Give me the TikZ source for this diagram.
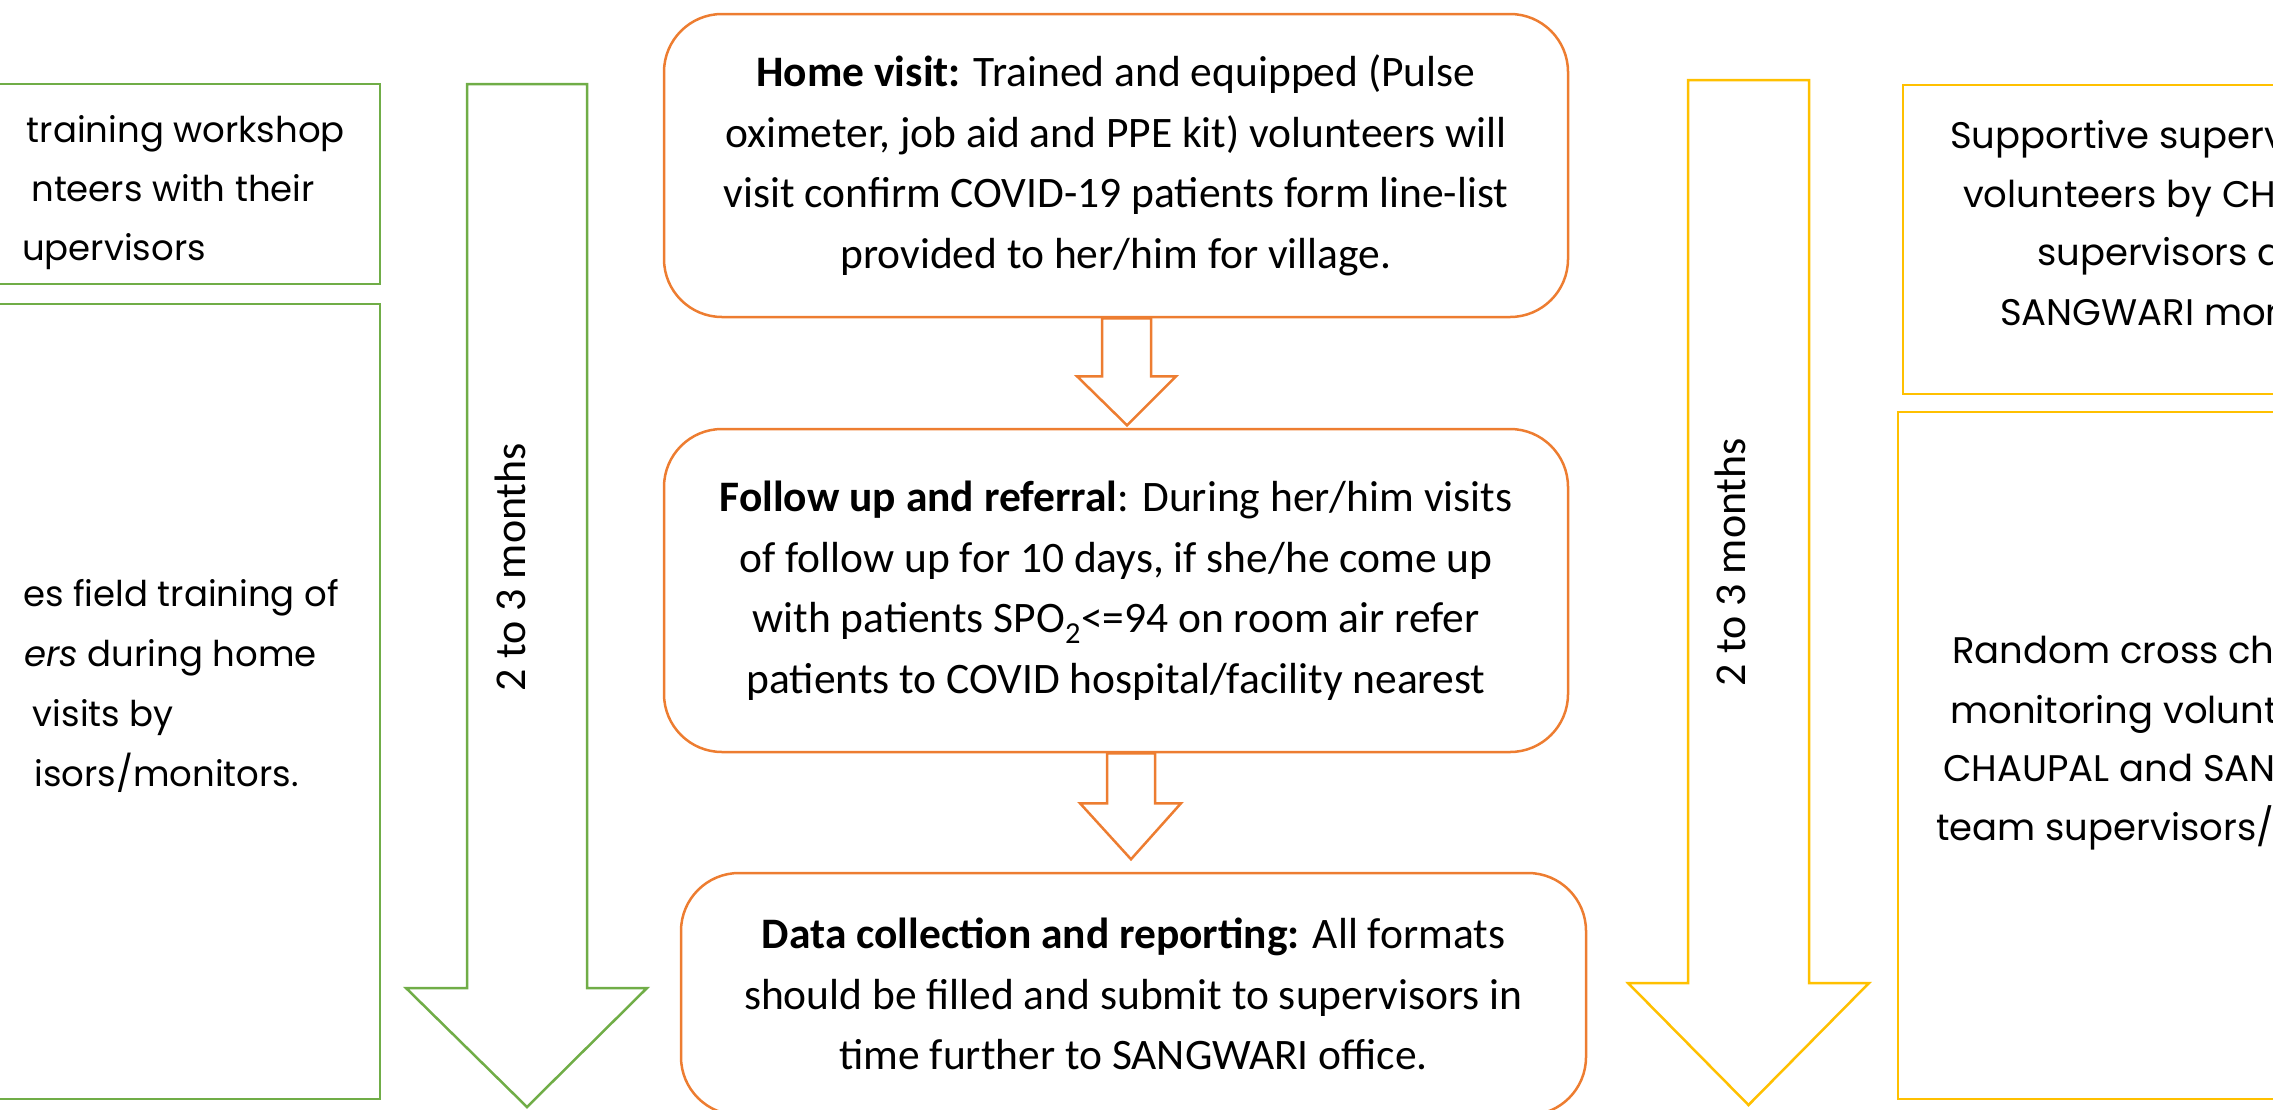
\documentclass[tikz,border=0pt]{standalone}
\usepackage{fontspec}
\setmainfont{Carlito}
\newfontfamily\gothic{Poppins}
\usetikzlibrary{calc}
\definecolor{orangeC}{HTML}{ED7D31}
\definecolor{greenC}{HTML}{70AD47}
\definecolor{yellowC}{HTML}{FFC000}
\tikzset{
  cbox/.style={draw=orangeC, line width=2.5pt, rounded corners=58pt, minimum width=904pt,
    align=center, inner sep=0pt, font=\fontsize{43.5}{60.5}\selectfont},
  gbox/.style={draw=greenC, line width=2.5pt, inner sep=0pt},
  ybox/.style={draw=yellowC, line width=2.5pt, inner sep=0pt},
  sidetxtL/.style={font=\gothic\fontsize{35.5}{60}\selectfont, anchor=base east, inner sep=0pt},
  sidetxtR/.style={font=\gothic\fontsize{37}{60}\selectfont, anchor=base west, inner sep=0pt},
  months/.style={font=\fontsize{44}{50}\selectfont, rotate=90, anchor=base, inner sep=0pt},
  blockarrow/.style={line width=2.5pt, line join=miter, fill=white}
}
\begin{document}
\begin{tikzpicture}[x=1pt,y=-1pt]
\useasboundingbox (0,0) rectangle (2273,1109);
\clip (0,0) rectangle (2273,1109);

% left green boxes
\node[gbox, minimum width=480pt, minimum height=200pt] (lt) at (140,184) {};
\node[gbox, minimum width=480pt, minimum height=795pt] (lb) at (140,701.5) {};
\node[sidetxtL] (lt1) at (345,142) {training workshop};
\node[sidetxtL] (lt2) at (315,201) {nteers with their};
\node[sidetxtL] (lt3) at (206,260) {upervisors};
\node[sidetxtL] (lb1) at (339,606) {es field training of};
\node[sidetxtL] (lb2) at (317,666) {{\itshape ers} during home};
\node[sidetxtL] (lb3) at (174,726) {visits by};
\node[sidetxtL] (lb4) at (299,786) {isors/monitors.};

% green block arrow
\draw[blockarrow, draw=greenC] (467,84) -- (587,84) -- (587,988) -- (647,988)
  -- (527,1107) -- (406,988) -- (467,988) -- cycle;
\node[months] (gm) at (525,567) {2 to 3 months};

% centre boxes
\node[cbox, minimum height=303pt] (b1) at (1116,165.5)
  {\textbf{Home visit:} Trained and equipped (Pulse\\
   oximeter, job aid and PPE kit) volunteers will\\
   visit confirm COVID-19 patients form line-list\\
   provided to her/him for village.};
\node[cbox, minimum height=323pt] (b2) at (1116,590.5)
  {\textbf{Follow up and referral}: During her/him visits\\
   of follow up for 10 days, if she/he come up\\
   with patients SPO\textsubscript{2}<=94 on room air refer\\
   patients to COVID hospital/facility nearest};
\node[cbox, minimum width=905pt, minimum height=242pt] (b3) at (1133.5,994)
  {\textbf{Data collection and reporting:} All formats\\
   should be filled and submit to supervisors in\\
   time further to SANGWARI office.};

% small block arrows between centre boxes
\draw[blockarrow, draw=orangeC] ($(b1.south)+(-14,0)$) -- ++(0,58) -- ++(-25,0)
  -- ($(b1.south)+(11,107)$) -- ($(b1.south)+(60,58)$) -- ++(-25,0) -- ($(b1.south)+(35,0)$) -- cycle;
\draw[blockarrow, draw=orangeC] ($(b2.south)+(-9,0)$) -- ++(0,50) -- ++(-27,0)
  -- ($(b2.south)+(15,106)$) -- ($(b2.south)+(65,50)$) -- ++(-26,0) -- ($(b2.south)+(39,0)$) -- cycle;

% yellow block arrow
\draw[blockarrow, draw=yellowC] (1688,80) -- (1809,80) -- (1809,983) -- (1869,983)
  -- (1748.5,1105) -- (1628,983) -- (1688,983) -- cycle;
\node[months] (ym) at (1745,562) {2 to 3 months};

% right yellow boxes
\node[ybox, minimum width=497pt, minimum height=309pt] (rt) at (2151.5,239.5) {};
\node[ybox, minimum width=502pt, minimum height=687pt] (rb) at (2149,755.5) {};
\node[sidetxtR] (rt1) at (1950,148) {Supportive superv};
\node[sidetxtR] (rt2) at (1963,207) {volunteers by CH};
\node[sidetxtR] (rt3) at (2037,265) {supervisors a};
\node[sidetxtR] (rt4) at (2000,325) {SANGWARI mon};
\node[sidetxtR] (rb1) at (1952,663) {Random cross ch};
\node[sidetxtR] (rb2) at (1950,723) {monitoring volunt};
\node[sidetxtR] (rb3) at (1943,781) {CHAUPAL and SAN};
\node[sidetxtR] (rb4) at (1936,840) {team supervisors/m};
\end{tikzpicture}
\end{document}
